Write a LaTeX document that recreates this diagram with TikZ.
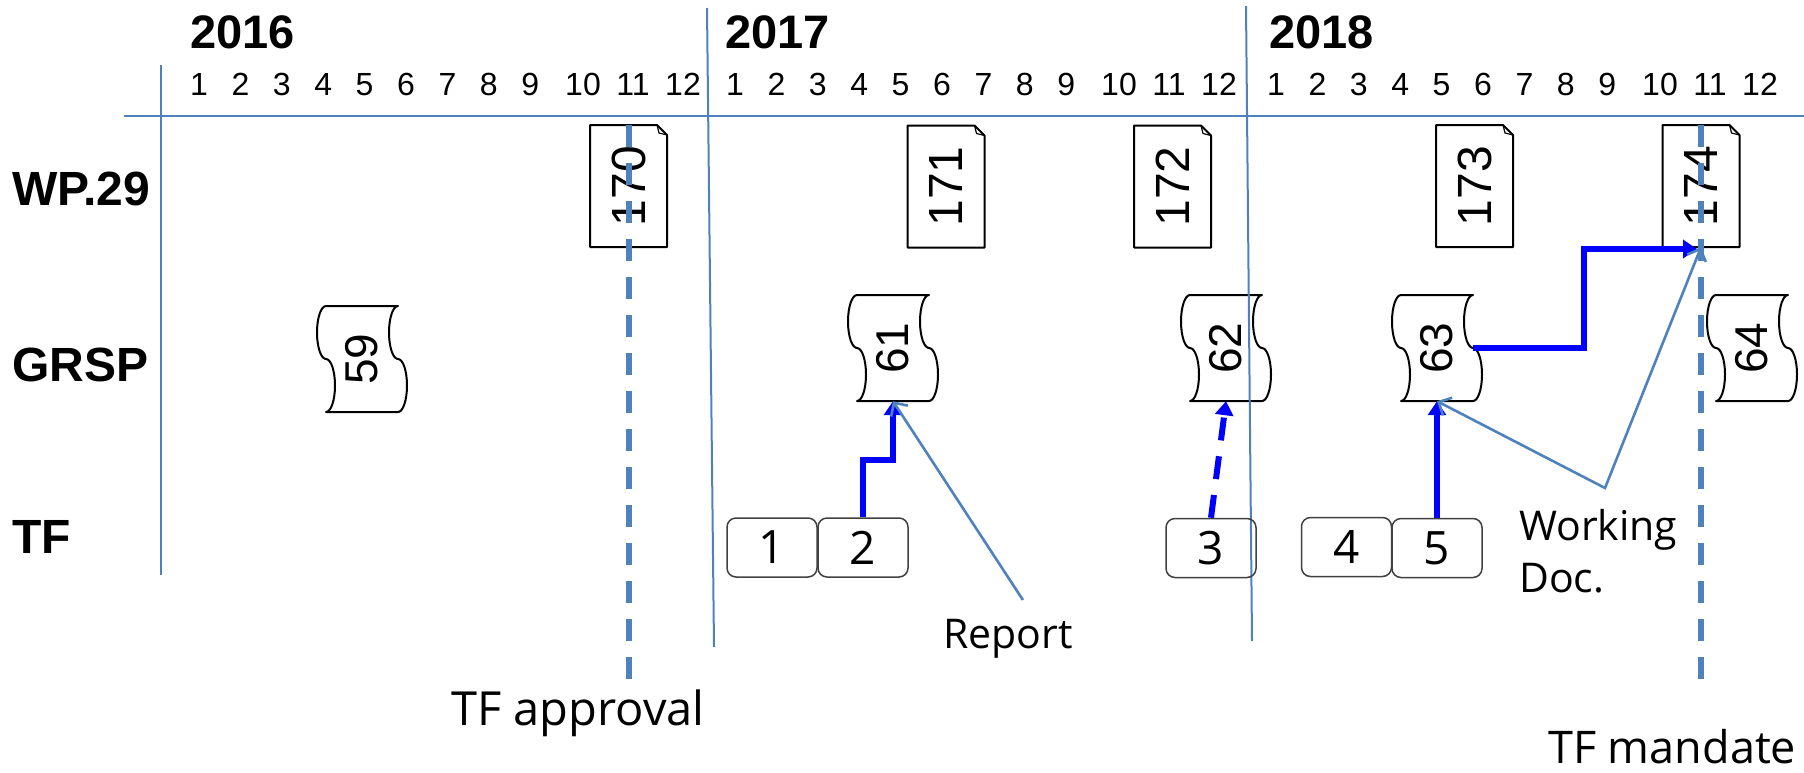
\documentclass[tikz,border=0pt]{standalone}
\usepackage{fontspec}
\usepackage{graphicx}
\setmainfont{Liberation Sans}
\newfontfamily\labfont{Open Sans}
\usetikzlibrary{arrows.meta,calc}
\definecolor{gridblue}{RGB}{79,129,189}
\definecolor{pureblue}{RGB}{0,0,255}
\tikzset{
  gridline/.style={draw=gridblue, line width=2pt},
  vdash/.style={draw=gridblue, line width=6pt, dash pattern=on 22pt off 16pt},
  fat/.style={draw=pureblue, line width=6pt, -{Triangle[length=14pt,width=18pt]}},
  fatdash/.style={fat, dash pattern=on 23pt off 16pt},
  thinline/.style={draw=gridblue, line width=2.6pt},
  barb/.style={thinline, -{Straight Barb[length=10pt,width=20pt]}},
  rowlab/.style={anchor=base west, inner sep=0pt, font=\fontsize{48}{52}\selectfont\bfseries},
  yearlab/.style={anchor=base west, inner sep=0pt, font=\fontsize{47}{52}\selectfont\bfseries},
  monthlab/.style={anchor=base, inner sep=0pt, font=\fontsize{32}{36}\selectfont},
  lab/.style={anchor=base west, inner sep=0pt, font=\labfont\fontsize{44}{50}\selectfont},
  tfbox/.style={draw=black!75, line width=1.5pt, rounded corners=9pt, minimum width=90pt,
    minimum height=59pt, inner sep=0pt, font=\labfont\fontsize{46}{50}\selectfont},
  docnode/.style={minimum width=77pt, minimum height=122pt, inner sep=0pt, font=\fontsize{48}{52}\selectfont},
  tapenode/.style={minimum width=72pt, minimum height=106pt, inner sep=0pt, font=\fontsize{46}{50}\selectfont},
  outline/.style={draw=black, line width=2pt, fill=white, line join=round},
}
\newcommand\wpdoc[4]{%
  \begin{scope}[shift={(#2,#3)}]
    \draw[outline] (-38.5,-61) -- (28.5,-61) -- (38.5,-51) -- (38.5,61) -- (-38.5,61) -- cycle;
    \draw[line width=1.2pt] (28.5,-61) -- (30.5,-53) -- (38.5,-51);
  \end{scope}
  \node[docnode] (#1) at (#2,#3) {\rotatebox{90}{#4}};}
\newcommand\grsp[4]{%
  \begin{scope}[shift={(#2,#3)}]
    \draw[outline] (36,-53) .. controls (31,-53) and (27,-41.1) .. (27,-26.5)
      .. controls (27,-11.9) and (31,0) .. (36,0)
      .. controls (41,0) and (45,11.9) .. (45,26.5)
      .. controls (45,41.1) and (41,53) .. (36,53)
      -- (-36,53)
      .. controls (-31,53) and (-27,41.1) .. (-27,26.5)
      .. controls (-27,11.9) and (-31,0) .. (-36,0)
      .. controls (-41,0) and (-45,-11.9) .. (-45,-26.5)
      .. controls (-45,-41.1) and (-41,-53) .. (-36,-53) -- cycle;
  \end{scope}
  \node[tapenode] (#1) at (#2,#3) {\rotatebox{90}{#4}};}
\begin{document}
\begin{tikzpicture}[x=1pt,y=-1pt]
\useasboundingbox (0,0) rectangle (1804,772);
% headers
\node[yearlab] (y16) at (190,48) {2016};
\node[yearlab] (y17) at (725,48) {2017};
\node[yearlab] (y18) at (1269,48) {2018};
\foreach \yr/\x in {16/199,17/735,18/1276}{
  \foreach \m/\dx in {1/0,2/41.4,3/82.8,4/124.2,5/165.6,6/207,7/248.4,8/289.8,9/331.2,10/384,11/434,12/484}{
    \node[monthlab] (m\yr-\m) at (\x+\dx,95) {\m};
  }
}
\node[rowlab] (wp) at (12,205) {WP.29};
\node[rowlab] (gr) at (12,381) {GRSP};
\node[rowlab] (tf) at (12,553) {TF};
% WP.29 documents
\wpdoc{w170}{628.5}{186}{170}
\wpdoc{w171}{946}{186.5}{171}
\wpdoc{w172}{1172.5}{186.5}{172}
\wpdoc{w173}{1474.5}{186}{173}
\wpdoc{w174}{1701}{186}{174}
% GRSP sessions
\grsp{g59}{362}{359}{59}
\grsp{g61}{893}{348}{61}
\grsp{g62}{1226}{348}{62}
\grsp{g63}{1437}{348}{63}
\grsp{g64}{1752}{348}{64}
% grid
\draw[gridline] (124,116) -- (1804,116);
\draw[gridline] (161,65) -- (161,575);
\draw[gridline] (707,8) -- (714,647);
\draw[gridline] (1246,6) -- (1252,641);
% TF boxes
\node[tfbox] (b1) at (772,547.5) {1};
\node[tfbox] (b2) at (863,547.5) {2};
\node[tfbox] (b3) at (1211,548) {3};
\node[tfbox] (b4) at (1346.5,547) {4};
\node[tfbox] (b5) at (1437,548) {5};
% labels
\node[lab, font=\labfont\fontsize{47}{52}\selectfont] (appr) at (451,725) {TF approval};
\node[lab, font=\labfont\fontsize{41}{48}\selectfont] (rep) at (943,648) {Report};
\node[lab, font=\labfont\fontsize{41}{48}\selectfont] (wd1) at (1519,540) {Working};
\node[lab, font=\labfont\fontsize{41}{48}\selectfont] (wd2) at (1519,592) {Doc.};
\node[lab, font=\labfont\fontsize{45}{50}\selectfont] (tfm) at (1548,763) {TF mandate};
% dashed milestones
\draw[vdash] (w170.north) -- (w170.north |- 0,681);
\draw[vdash] (w174.north) -- (w174.north |- 0,680);
% thick arrows
\draw[fat] (b2.north) -- (b2.north |- 0,460) -- (g61.south |- 0,460) -- (g61.south);
\draw[fatdash] (b3.north) -- (g62.south);
\draw[fat] (b5.north) -- (g63.south);
\coordinate (t174) at (1697,249);
\draw[fat] (g63.east) -- (1584,348) -- (1584,249) -- (t174);
% thin arrows
\draw[barb] ([xshift=15pt,yshift=48pt]rep.base) -- (g61.south);
\coordinate (wdv) at (1605,488);
\draw[thinline, {Straight Barb[length=10pt,width=20pt]}-{Straight Barb[length=10pt,width=20pt]}] (g63.south) -- (wdv) -- (w174.south);
\end{tikzpicture}
\end{document}
